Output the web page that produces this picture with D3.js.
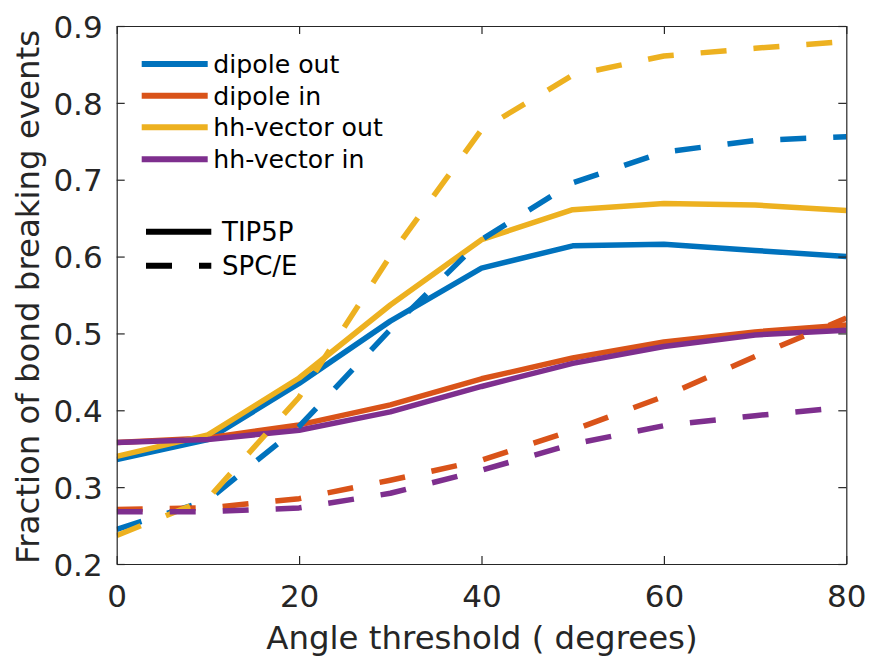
<!DOCTYPE html>
<html>
<head>
<meta charset="utf-8">
<script src="https://cdn.jsdelivr.net/npm/d3@7"></script>
<style>
  html, body { margin: 0; padding: 0; background: #fff; }
  svg { display: block; }
  text { font-family: "DejaVu Sans", sans-serif; fill: #262626; }
</style>
</head>
<body>
<svg id="chart" width="869" height="656"></svg>
<script>
// ---- data ----
const angles = [0, 10, 20, 30, 40, 50, 60, 70, 80];
const dipoleOutTIP5P = [0.336, 0.362, 0.435, 0.516, 0.585, 0.614, 0.616, 0.608, 0.600];
const dipoleInTIP5P  = [0.358, 0.364, 0.381, 0.407, 0.441, 0.468, 0.489, 0.502, 0.511];
const hhOutTIP5P     = [0.340, 0.368, 0.442, 0.537, 0.622, 0.661, 0.669, 0.667, 0.660];
const hhInTIP5P      = [0.358, 0.362, 0.374, 0.398, 0.431, 0.461, 0.483, 0.498, 0.504];
const dipoleOutSPCE  = [0.245, 0.283, 0.379, 0.505, 0.622, 0.696, 0.736, 0.751, 0.756];
const dipoleInSPCE   = [0.271, 0.273, 0.285, 0.309, 0.335, 0.374, 0.418, 0.470, 0.520];
const hhOutSPCE      = [0.237, 0.285, 0.417, 0.601, 0.765, 0.836, 0.861, 0.871, 0.880];
const hhInSPCE       = [0.268, 0.268, 0.273, 0.292, 0.322, 0.356, 0.380, 0.393, 0.404];
const seriesNames = ["dipole out", "dipole in", "hh-vector out", "hh-vector in"];
const modelNames = ["TIP5P", "SPC/E"];
const xTicks = [0, 20, 40, 60, 80];
const yTicks = [0.2, 0.3, 0.4, 0.5, 0.6, 0.7, 0.8, 0.9];
const colors = ["#0072BD", "#D95319", "#EDB120", "#7E2F8E"];

// ---- layout ----
const L = 116.7, R = 846.3, T = 26, B = 564;
const svg = d3.select("#chart");
const x = d3.scaleLinear().domain([0, 80]).range([L, R]);
const y = d3.scaleLinear().domain([0.2, 0.9]).range([B, T]);

const lw = 5.5;
const dash = "26,27";
const tickFont = 31;
const labelFont = 32.4;

// clip
svg.append("defs").append("clipPath").attr("id", "clip")
  .append("rect").attr("x", L).attr("y", T).attr("width", R - L).attr("height", B - T);

const line = d3.line().x((d, i) => x(angles[i])).y(d => y(d));

const plot = svg.append("g").attr("clip-path", "url(#clip)");
const solid = [dipoleOutTIP5P, dipoleInTIP5P, hhOutTIP5P, hhInTIP5P];
const dashed = [dipoleOutSPCE, dipoleInSPCE, hhOutSPCE, hhInSPCE];
solid.forEach((s, i) => {
  plot.append("path").datum(s).attr("d", line)
    .attr("fill", "none").attr("stroke", colors[i]).attr("stroke-width", lw)
    .attr("stroke-linejoin", "round");
});
dashed.forEach((s, i) => {
  plot.append("path").datum(s).attr("d", line)
    .attr("fill", "none").attr("stroke", colors[i]).attr("stroke-width", lw)
    .attr("stroke-dasharray", dash).attr("stroke-linejoin", "round");
});

// ---- axes ----
const axisColor = "#262626";
const tickLen = 8;
const xAxisB = d3.axisBottom(x).tickValues(xTicks).tickSizeInner(-tickLen).tickSizeOuter(0).tickPadding(14).tickFormat(d3.format("d"));
const xAxisT = d3.axisTop(x).tickValues(xTicks).tickSizeInner(-tickLen).tickSizeOuter(0).tickFormat("");
const yAxisL = d3.axisLeft(y).tickValues(yTicks).tickSizeInner(-tickLen).tickSizeOuter(0).tickPadding(14).tickFormat(d3.format(".1f"));
const yAxisR = d3.axisRight(y).tickValues(yTicks).tickSizeInner(-tickLen).tickSizeOuter(0).tickFormat("");

function style(g) {
  g.select(".domain").attr("stroke", axisColor).attr("stroke-width", 1.2);
  g.selectAll(".tick line").attr("stroke", axisColor).attr("stroke-width", 1.2);
  g.selectAll(".tick text").attr("fill", axisColor)
    .style("font-family", "DejaVu Sans, sans-serif").style("font-size", tickFont + "px");
}
svg.append("g").attr("transform", `translate(0,${B})`).call(xAxisB).call(style)
  .selectAll(".tick text").attr("dy", "0").attr("y", 606.7 - B);
svg.append("g").attr("transform", `translate(0,${T})`).call(xAxisT).call(style);
svg.append("g").attr("transform", `translate(${L},0)`).call(yAxisL).call(style)
  .selectAll(".tick text").attr("dy", "0.36em");
svg.append("g").attr("transform", `translate(${R},0)`).call(yAxisR).call(style);

// axis labels
svg.append("text").attr("x", (L + R) / 2 + 0.5).attr("y", 649)
  .attr("text-anchor", "middle").style("font-size", labelFont + "px")
  .text("Angle threshold ( degrees)");
svg.append("text").attr("transform", `translate(38.5,${(T + B) / 2 + 2}) rotate(-90)`)
  .attr("text-anchor", "middle").style("font-size", labelFont + "px")
  .text("Fraction of bond breaking events");

// ---- legend: series ----
const legY = [64, 95.7, 127.3, 159.3];
const leg = svg.append("g");
seriesNames.forEach((n, i) => {
  leg.append("line").attr("x1", 141.7).attr("x2", 207.7).attr("y1", legY[i]).attr("y2", legY[i])
    .attr("stroke", colors[i]).attr("stroke-width", 6);
  leg.append("text").attr("x", 213.3).attr("y", legY[i]).attr("dy", "0.36em")
    .style("font-size", "25.2px").style("fill", "#000").text(n);
});

// ---- legend: models ----
const modY = [231.7, 265.7];
modelNames.forEach((n, i) => {
  leg.append("line").attr("x1", 146).attr("x2", 211.3).attr("y1", modY[i]).attr("y2", modY[i])
    .attr("stroke", "#000").attr("stroke-width", 6)
    .attr("stroke-dasharray", i === 1 ? "26,27" : null);
  leg.append("text").attr("x", 222).attr("y", modY[i]).attr("dy", "0.36em")
    .style("font-size", "26px").style("fill", "#000").text(n);
});
</script>
</body>
</html>
